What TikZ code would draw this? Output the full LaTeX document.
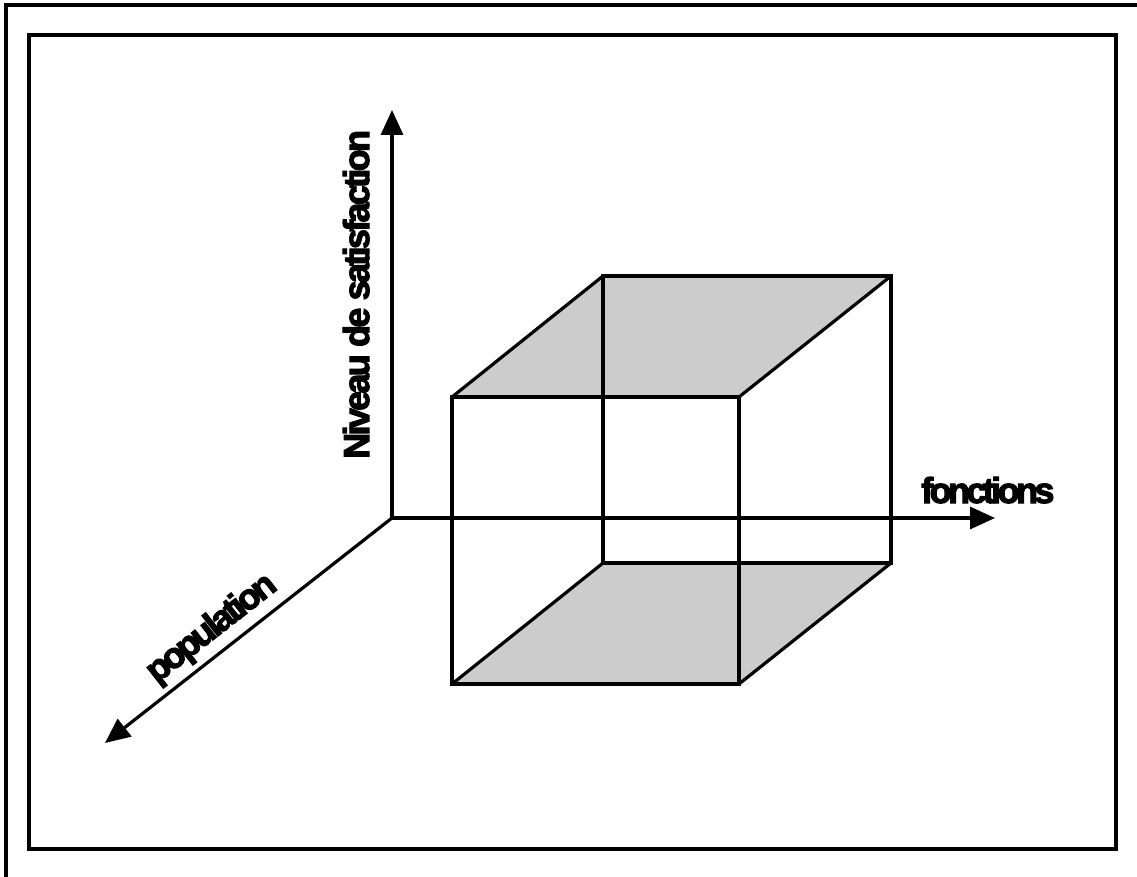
\documentclass[tikz,border=0pt]{standalone}
\usepackage{fontspec}
\setmainfont{Liberation Sans}
\newfontfamily\heavyA[FakeBold=3,LetterSpace=-10]{Liberation Sans Bold}
\newfontfamily\heavyB[FakeBold=3,LetterSpace=-7.5]{Liberation Sans Bold}
\newfontfamily\heavyC[FakeBold=3,LetterSpace=-9]{Liberation Sans Bold}
\usetikzlibrary{arrows.meta}
\tikzset{
  frameline/.style={line width=3.2pt},
  axis/.style={line width=3.2pt,-{Triangle[length=25pt,width=22pt]}},
  cubeedge/.style={line width=3.2pt,line join=miter},
  face/.style={fill={rgb,255:red,204;green,204;blue,204}},
  lbl/.style={inner sep=0pt,font=\fontsize{36}{36}\selectfont},
}
\begin{document}
\begin{tikzpicture}[x=1pt,y=-1pt]
\useasboundingbox (0,0) rectangle (1137,877);
% outer frame lines
\coordinate (fa) at (6,877);
\coordinate (fb) at (6,5);
\coordinate (fc) at (1137,5);
\draw[frameline] (fa) -- (fb) -- (fc);
% inner frame
\coordinate (ia) at (29,35);
\coordinate (ib) at (1116,849);
\draw[frameline] (ia) rectangle (ib);
% cube corners
\coordinate (A) at (452,397);
\coordinate (B) at (739,397);
\coordinate (C) at (739,684);
\coordinate (D) at (452,684);
\coordinate (E) at (603,276);
\coordinate (F) at (891,276);
\coordinate (G) at (891,563);
\coordinate (H) at (603,563);
% shaded faces
\fill[face] (A) -- (E) -- (F) -- (B) -- cycle;
\fill[face] (D) -- (H) -- (G) -- (C) -- cycle;
% axes
\coordinate (O) at (392,518);
\coordinate (ytip) at (392,110);
\coordinate (xtip) at (995,518);
\coordinate (ztip) at (105,743);
\draw[axis] (O) -- (ytip);
\draw[axis] (O) -- (xtip);
\draw[axis] (O) -- (ztip);
% cube edges
\draw[cubeedge] (A) -- (B) -- (C) -- (D) -- cycle;
\draw[cubeedge] (E) -- (F) -- (G) -- (H) -- cycle;
\draw[cubeedge] (A) -- (E);
\draw[cubeedge] (B) -- (F);
\draw[cubeedge] (C) -- (G);
\draw[cubeedge] (D) -- (H);
% labels
\node[lbl,anchor=base west] (fon) at (921,503) {\heavyA fonctions};
\node[lbl,anchor=base west,rotate=90] (niv) at (369,459) {\heavyB Niveau de satisfaction};
\node[lbl,rotate=38] (pop) at (212,629) {\heavyC population};
\end{tikzpicture}
\end{document}
